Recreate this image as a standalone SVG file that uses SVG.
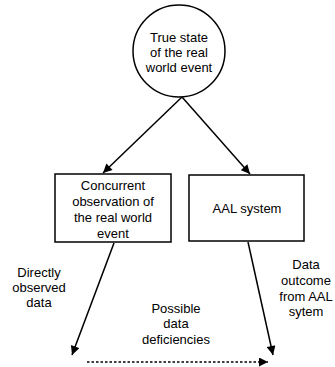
<svg xmlns="http://www.w3.org/2000/svg" width="335" height="367" viewBox="0 0 335 367">
<defs>
<style>
text{font-family:"Liberation Sans",Arial,sans-serif;font-size:13px;fill:#000;text-anchor:middle}
.node{fill:#fff;stroke:#000;stroke-width:1.5}
.conn{stroke:#000;stroke-width:1.5;fill:none}
.dot{stroke-dasharray:2.5,2}
</style>
<marker id="ah" viewBox="0 0 10 10" refX="10" refY="5" markerWidth="10" markerHeight="9" markerUnits="userSpaceOnUse" orient="auto">
<path d="M0,0 L10,5 L0,10 z" fill="#000"/>
</marker>
</defs>
<rect width="335" height="367" fill="#fff"/>
<g id="connectors">
<line class="conn" x1="182" y1="97" x2="103" y2="173" marker-end="url(#ah)"/>
<line class="conn" x1="182" y1="97" x2="250" y2="174" marker-end="url(#ah)"/>
<line class="conn" x1="114" y1="243" x2="72" y2="355" marker-end="url(#ah)"/>
<line class="conn" x1="248" y1="242" x2="273" y2="355" marker-end="url(#ah)"/>
<line class="conn dot" x1="87" y1="362" x2="268" y2="362" marker-end="url(#ah)"/>
</g>
<g id="true-state">
<circle class="node" cx="179" cy="51" r="46"/>
<text x="179" y="42">True state</text>
<text x="179" y="57">of the real</text>
<text x="179" y="72">world event</text>
</g>
<g id="observation">
<rect class="node" x="55" y="174" width="116" height="68"/>
<text x="113" y="190">Concurrent</text>
<text x="113" y="206">observation of</text>
<text x="113" y="222">the real world</text>
<text x="113" y="238">event</text>
</g>
<g id="aal">
<rect class="node" x="189" y="175" width="115" height="66"/>
<text x="247" y="213">AAL system</text>
</g>
<g id="labels">
<text x="39" y="277">Directly</text>
<text x="39" y="292">observed</text>
<text x="39" y="307">data</text>
<text x="176" y="313">Possible</text>
<text x="176" y="328">data</text>
<text x="176" y="344">deficiencies</text>
<text x="306" y="269">Data</text>
<text x="306" y="285">outcome</text>
<text x="306" y="301">from AAL</text>
<text x="306" y="316">sytem</text>
</g>
</svg>
